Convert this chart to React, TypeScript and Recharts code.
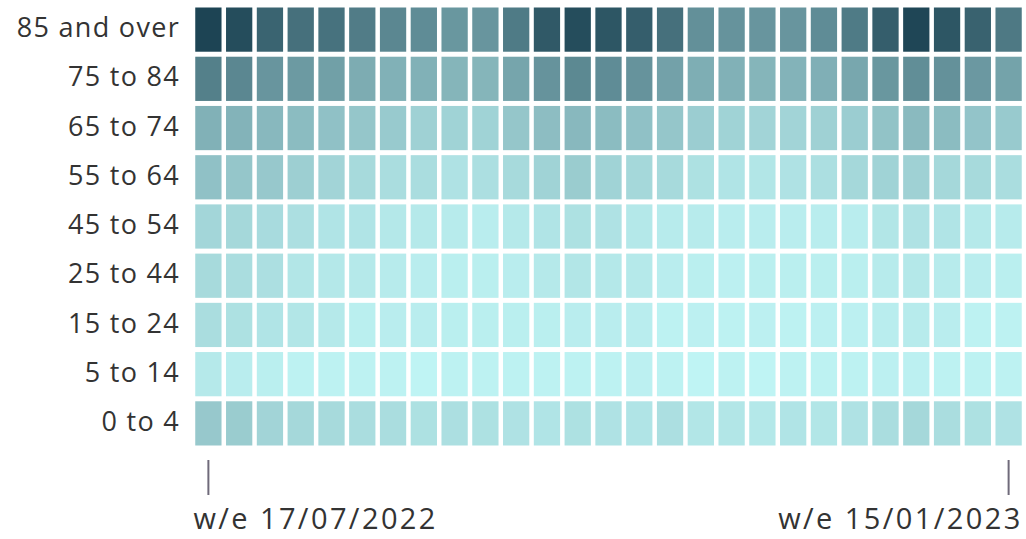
import { ScatterChart, Scatter, XAxis, YAxis } from "recharts";

// week ending dates, first to last
const weeks = [
  "17/07/2022", "24/07/2022", "31/07/2022", "07/08/2022", "14/08/2022", "21/08/2022",
  "28/08/2022", "04/09/2022", "11/09/2022", "18/09/2022", "25/09/2022", "02/10/2022",
  "09/10/2022", "16/10/2022", "23/10/2022", "30/10/2022", "06/11/2022", "13/11/2022",
  "20/11/2022", "27/11/2022", "04/12/2022", "11/12/2022", "18/12/2022", "25/12/2022",
  "01/01/2023", "08/01/2023", "15/01/2023",
];

// age bands, top row first
const ageGroups = [
  "85 and over", "75 to 84", "65 to 74", "55 to 64", "45 to 54",
  "25 to 44", "15 to 24", "5 to 14", "0 to 4",
];

// relative intensity (0 = lightest, 100 = darkest)
const age85plus = [100, 95, 82, 75, 74, 68, 62, 59, 53, 54, 69, 88, 95, 90, 85, 75, 57, 55, 54, 54, 59, 69, 85, 99, 90, 83, 70];
const age75to84 = [66, 62, 54, 51, 48, 41, 38, 38, 36, 36, 45, 55, 61, 59, 55, 47, 40, 38, 36, 37, 39, 44, 53, 58, 56, 52, 46];
const age65to74 = [38, 37, 34, 32, 29, 26, 24, 20, 19, 19, 26, 31, 34, 32, 29, 26, 22, 19, 18, 18, 20, 22, 28, 33, 32, 27, 24];
const age55to64 = [29, 26, 25, 21, 18, 15, 13, 13, 10, 12, 15, 19, 23, 19, 16, 15, 11, 9, 8, 10, 12, 16, 19, 20, 16, 15, 13];
const age45to54 = [17, 16, 14, 12, 9, 9, 7, 6, 5, 4, 6, 9, 11, 10, 7, 5, 5, 4, 4, 4, 4, 4, 8, 10, 9, 6, 5];
const age25to44 = [15, 13, 12, 8, 7, 6, 5, 4, 3, 3, 4, 6, 8, 7, 6, 4, 3, 2, 3, 3, 3, 3, 5, 7, 5, 4, 3];
const age15to24 = [13, 11, 9, 8, 6, 3, 4, 4, 3, 3, 3, 3, 4, 4, 4, 1, 2, 1, 2, 1, 2, 2, 4, 5, 4, 1, 1];
const age5to14 = [6, 4, 3, 1, 1, 1, 1, 0, 1, 1, 1, 1, 1, 1, 2, 1, 0, 1, 0, 1, 1, 1, 2, 2, 1, 1, 1];
const age0to4 = [25, 23, 18, 16, 15, 13, 13, 11, 12, 11, 10, 9, 11, 10, 9, 12, 8, 8, 7, 9, 8, 10, 13, 16, 13, 11, 10];

const rows = [age85plus, age75to84, age65to74, age55to64, age45to54, age25to44, age15to24, age5to14, age0to4];

const LIGHT = [191, 244, 244];
const DARK = [29, 68, 84];

const colorFor = (v: number) => {
  const t = Math.max(0, Math.min(1, v / 100));
  const c = LIGHT.map((l, i) => Math.round(l + (DARK[i] - l) * t));
  return `rgb(${c[0]}, ${c[1]}, ${c[2]})`;
};

const data = rows.flatMap((vals, r) =>
  vals.map((v, w) => ({ week: w, age: r, value: v }))
);

const WIDTH = 1026;
const HEIGHT = 539;
const MARGIN = { top: 5, right: 2, bottom: 0, left: 0 };
const Y_WIDTH = 193;
const X_HEIGHT = 91;
const colW = (WIDTH - MARGIN.left - MARGIN.right - Y_WIDTH) / weeks.length;
const rowH = (HEIGHT - MARGIN.top - MARGIN.bottom - X_HEIGHT) / ageGroups.length;

const Cell = (props: any) => {
  const { cx, cy, payload } = props;
  const w = colW - 4.5;
  const h = rowH - 5;
  return <rect x={cx - w / 2} y={cy - h / 2} width={w} height={h} fill={colorFor(payload.value)} />;
};

const WeekTick = (props: any) => {
  const { x, y, payload, index } = props;
  const first = index === 0;
  return (
    <g>
      <line x1={x} x2={x} y1={y + 10} y2={y + 45} stroke="#6f6a7a" strokeWidth={2} />
      <text
        x={first ? x - 15 : x + 14}
        y={y + 79}
        textAnchor={first ? "start" : "end"}
        fontSize={29}
        letterSpacing={2.4}
        fill="#333"
      >
        w/e {weeks[payload.value]}
      </text>
    </g>
  );
};

const App = () => {
  return (
    <div style={{ position: "absolute", left: 0, top: 0, fontFamily: "'Open Sans', sans-serif" }}>
      <ScatterChart width={WIDTH} height={HEIGHT} margin={MARGIN}>
        <XAxis
          type="number"
          dataKey="week"
          domain={[-0.5, weeks.length - 0.5]}
          ticks={[0, weeks.length - 1]}
          height={X_HEIGHT}
          axisLine={false}
          tickLine={false}
          tickSize={0}
          tick={<WeekTick />}
          interval={0}
        />
        <YAxis
          type="number"
          dataKey="age"
          domain={[-0.5, ageGroups.length - 0.5]}
          ticks={ageGroups.map((_, i) => i)}
          reversed
          width={Y_WIDTH}
          axisLine={false}
          tickLine={false}
          tickSize={0}
          tickMargin={13}
          interval={0}
          tickFormatter={(i: number) => ageGroups[i]}
          tick={{ fontSize: 27, fill: "#333", letterSpacing: 1.3, dy: -2 }}
        />
        <Scatter data={data} shape={<Cell />} isAnimationActive={false} />
      </ScatterChart>
    </div>
  );
};

export default App;
